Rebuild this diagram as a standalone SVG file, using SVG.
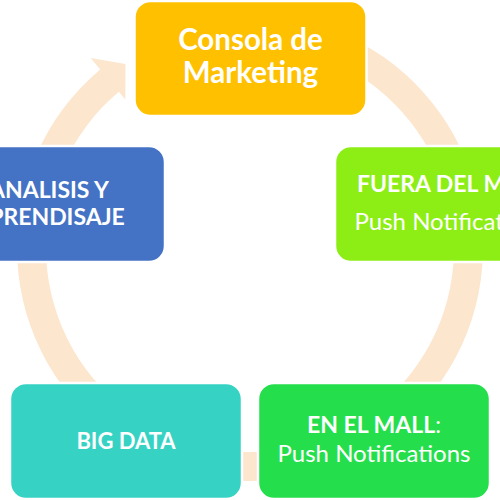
<svg xmlns="http://www.w3.org/2000/svg" width="500" height="500" viewBox="0 0 500 500">
<style>
.box{stroke:#ffffff;stroke-width:2.5}
.t{fill:#ffffff;font-family:Lato,"Liberation Sans",Arial,sans-serif;text-anchor:middle}
.b{font-weight:bold}
.r{font-weight:normal}
</style>
<rect x="0" y="0" width="500" height="500" fill="#ffffff"/>
<g id="connectors">
<path d="M 258.1 15.1 A 233 233 0 1 1 100.2 69.5 L 90.6 58 L 125.5 63.9 L 125.3 99.4 L 118.9 91.7 A 204 204 0 1 0 257.1 44.1 Z" fill="#FDE6CE"/>
</g>
<g id="consola">
<rect class="box" x="134.5" y="1" width="232" height="115" rx="16" fill="#FFC000"/>
<text class="t b" x="250.5" y="50" font-size="29.5">Consola de</text>
<text class="t b" x="250.5" y="83" font-size="29.5">Marketing</text>
</g>
<g id="fuera">
<rect class="box" x="335" y="146" width="232" height="116" rx="16" fill="#8DEE16"/>
<text class="t b" x="451" y="192" font-size="23">FUERA DEL MALL</text>
<text class="t r" x="451" y="230" font-size="24">Push Notifications</text>
</g>
<g id="enelmall">
<rect class="box" x="258" y="383" width="232" height="116" rx="16" fill="#24DF4B"/>
<text class="t" x="374" y="433" font-size="23"><tspan class="b">EN EL MALL</tspan><tspan class="r">:</tspan></text>
<text class="t r" x="374" y="462" font-size="24">Push Notifications</text>
</g>
<g id="bigdata">
<rect class="box" x="10" y="383" width="232" height="116" rx="16" fill="#36D3C4"/>
<text class="t b" x="126" y="449" font-size="22">BIG DATA</text>
</g>
<g id="analisis">
<rect class="box" x="-67" y="146" width="232" height="116" rx="16" fill="#4472C4"/>
<text class="t b" x="49" y="198" font-size="23">ANALISIS Y</text>
<text class="t b" x="49" y="225" font-size="23">APRENDISAJE</text>
</g>
</svg>
